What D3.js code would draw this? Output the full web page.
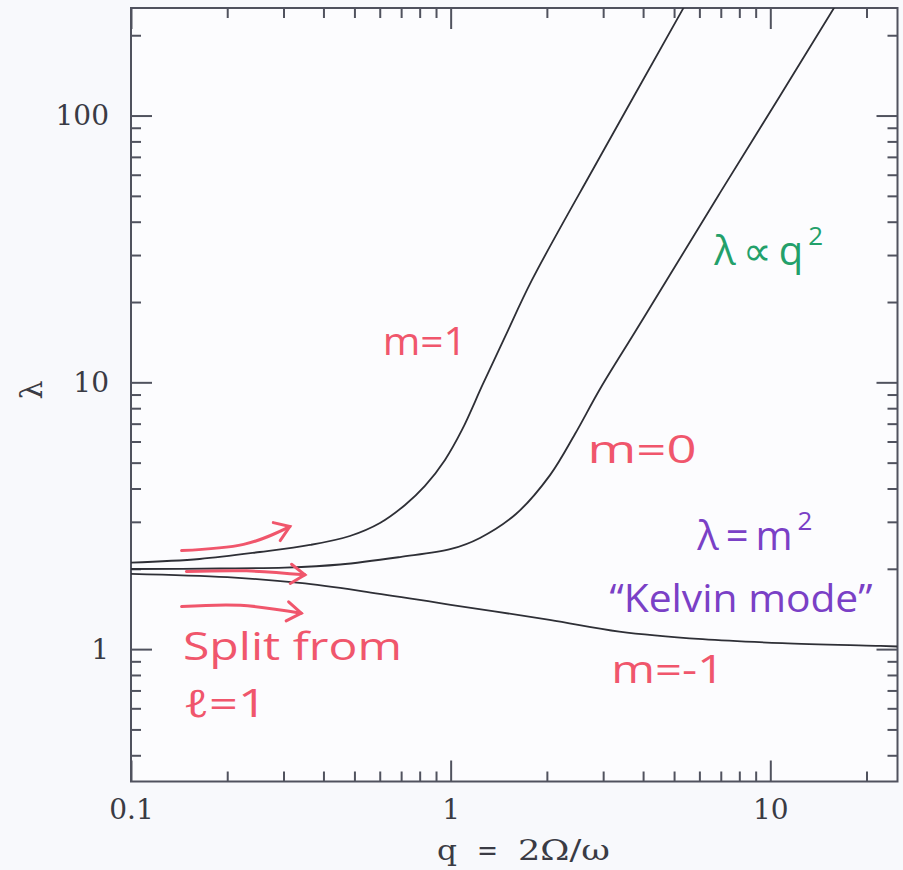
<!DOCTYPE html>
<html>
<head>
<meta charset="utf-8">
<script src="https://cdn.jsdelivr.net/npm/d3@7"></script>
<style>
body { margin: 0; background: #f8f9fc; }
svg { display: block; }
</style>
</head>
<body>
<svg width="903" height="870"></svg>
<script>
// valeurs (q = 2 Omega / omega, lambda)
var qTicks = [0.1, 1, 10];
var qTickLabels = ["0.1", "1", "10"];
var lamTicks = [1, 10, 100];
var lamTickLabels = ["1", "10", "100"];

var m1Q = [0.1, 0.164, 0.253, 0.363, 0.484, 0.601, 0.72, 0.831, 0.96, 1.085, 1.262, 1.479, 1.797, 2.93, 5.33, 6.03];
var m1L = [2.108, 2.177, 2.312, 2.457, 2.655, 2.97, 3.47, 4.09, 5.12, 6.63, 9.86, 14.8, 24.2, 69.9, 251, 328];

var m0Q = [0.1, 0.19, 0.303, 0.451, 0.694, 1.003, 1.235, 1.601, 2.046, 2.449, 2.932, 3.773, 4.855, 6.96, 10.72, 15.82, 19.08];
var m0L = [1.997, 2.005, 2.022, 2.076, 2.214, 2.373, 2.61, 3.21, 4.49, 6.40, 9.44, 15.44, 25.3, 51.3, 118.4, 253, 364];

var mm1Q = [0.1, 0.2, 0.337, 0.545, 1.0, 2.04, 3.37, 6.14, 10.9, 21.4, 25];
var mm1L = [1.915, 1.86, 1.77, 1.64, 1.466, 1.288, 1.164, 1.09, 1.053, 1.029, 1.023];

// annotations manuscrites (position en coordonnees du graphe)
var notes = [
    { text: "m=1", q: 0.613, lam: 12.7, color: "#f0566c", w: 84 },
    { text: "m=0", q: 2.68, lam: 4.99, color: "#f0566c", w: 109 },
    { text: "“Kelvin mode”", q: 3.14, lam: 1.38, color: "#7a40c6", w: 263 },
    { text: "m=-1", q: 3.18, lam: 0.748, color: "#f0566c", w: 113 },
    { text: "Split from", q: 0.1454, lam: 0.912, color: "#f0566c", w: 219 },
    { text: "ℓ=1", q: 0.1454, lam: 0.559, color: "#f0566c", w: 84 }
];
// annotations avec exposant
var powNotes = [
    { base: "λ∝q", exp: "2", q: 6.68, lam: 27.6, color: "#23a06a" },
    { base: "λ=m", exp: "2", q: 5.91, lam: 2.36, color: "#7a40c6" }
];
var arrows = [
    [[0.144, 2.34], [0.225, 2.47], [0.314, 2.88]],
    [[0.149, 1.954], [0.23, 1.965], [0.35, 1.899]],
    [[0.144, 1.444], [0.22, 1.46], [0.341, 1.364]]
];

var svg = d3.select("svg");

var x = d3.scaleLog().domain([0.1, 25]).range([131, 897.5]);
var y = d3.scaleLog().domain([0.319, 253]).range([781.5, 8]);

var x0 = x.range()[0], x1 = x.range()[1];
var y0 = y.range()[0], y1 = y.range()[1];

function isMajor(v) {
    var l = Math.log10(v);
    return Math.abs(l - Math.round(l)) < 1e-6;
}
var xMinor = x.ticks().filter(function(v) { return !isMajor(v); });
var yMinor = y.ticks().filter(function(v) { return !isMajor(v); });

svg.append("rect")
    .attr("x", x0).attr("y", y1)
    .attr("width", x1 - x0).attr("height", y0 - y1)
    .attr("fill", "#fcfcfe");

svg.append("clipPath").attr("id", "plot")
    .append("rect")
    .attr("x", x0).attr("y", y1)
    .attr("width", x1 - x0).attr("height", y0 - y1);

// axes : graduations vers l'interieur sur les quatre cotes
function drawAxis(axisFn, scale, values, size, transform, labels) {
    var a = axisFn(scale).tickValues(values).tickSize(-size)
        .tickFormat(function(d, i) { return labels ? labels[i] : ""; });
    var g = svg.append("g").attr("transform", transform).call(a);
    g.select(".domain").remove();
    g.selectAll("line").attr("stroke", "#50525e").attr("stroke-width", 2);
    g.selectAll("text")
        .attr("font-family", "DejaVu Serif")
        .attr("font-size", 28)
        .attr("fill", "#3a3b44");
    return g;
}

var gb = drawAxis(d3.axisBottom, x, qTicks, 21, "translate(0," + y0 + ")", qTickLabels);
gb.selectAll("text").attr("y", 18);
drawAxis(d3.axisBottom, x, xMinor, 10, "translate(0," + y0 + ")");
drawAxis(d3.axisTop, x, qTicks, 21, "translate(0," + y1 + ")");
drawAxis(d3.axisTop, x, xMinor, 10, "translate(0," + y1 + ")");

var gl = drawAxis(d3.axisLeft, y, lamTicks, 21, "translate(" + x0 + ",0)", lamTickLabels);
gl.selectAll("text").attr("x", -22);
drawAxis(d3.axisLeft, y, yMinor, 10, "translate(" + x0 + ",0)");
drawAxis(d3.axisRight, y, lamTicks, 21, "translate(" + x1 + ",0)");
drawAxis(d3.axisRight, y, yMinor, 10, "translate(" + x1 + ",0)");

svg.append("rect")
    .attr("x", x0).attr("y", y1)
    .attr("width", x1 - x0).attr("height", y0 - y1)
    .attr("fill", "none")
    .attr("stroke", "#50525e")
    .attr("stroke-width", 2);

// courbes
var line = d3.line()
    .x(function(d) { return x(d[0]); })
    .y(function(d) { return y(d[1]); })
    .curve(d3.curveCatmullRom.alpha(0.5));

var curves = [d3.zip(m1Q, m1L), d3.zip(m0Q, m0L), d3.zip(mm1Q, mm1L)];

svg.append("g").attr("clip-path", "url(#plot)")
    .selectAll("path")
    .data(curves)
    .enter().append("path")
    .attr("d", line)
    .attr("fill", "none")
    .attr("stroke", "#2e2f36")
    .attr("stroke-width", 1.8);

// titres des axes
var xTitle = [
    { t: "q", x: 437, w: 20 },
    { t: "=", x: 477, w: 21 },
    { t: "2Ω/ω", x: 518, w: 92 }
];
svg.append("g").selectAll("text")
    .data(xTitle)
    .enter().append("text")
    .attr("x", function(d) { return d.x; })
    .attr("y", 860)
    .attr("font-family", "DejaVu Serif")
    .attr("font-size", 28)
    .attr("fill", "#3a3b44")
    .attr("textLength", function(d) { return d.w; })
    .attr("lengthAdjust", "spacingAndGlyphs")
    .text(function(d) { return d.t; });

svg.append("text")
    .attr("transform", "translate(42,390) rotate(-90)")
    .attr("text-anchor", "middle")
    .attr("font-family", "DejaVu Serif")
    .attr("font-size", 30)
    .attr("fill", "#3a3b44")
    .text("λ");

// annotations
svg.append("g").selectAll("text")
    .data(notes)
    .enter().append("text")
    .attr("x", function(d) { return x(d.q); })
    .attr("y", function(d) { return y(d.lam); })
    .attr("font-family", "Open Sans")
    .attr("font-size", 38)
    .attr("fill", function(d) { return d.color; })
    .attr("textLength", function(d) { return d.w; })
    .attr("lengthAdjust", "spacingAndGlyphs")
    .text(function(d) { return d.text; });

var pt = svg.append("g").selectAll("text")
    .data(powNotes)
    .enter().append("text")
    .attr("x", function(d) { return x(d.q); })
    .attr("y", function(d) { return y(d.lam); })
    .attr("font-family", "Open Sans")
    .attr("font-size", 40)
    .attr("letter-spacing", 7)
    .attr("fill", function(d) { return d.color; });
pt.append("tspan").text(function(d) { return d.base; });
pt.append("tspan")
    .attr("dx", -2)
    .attr("dy", -20)
    .attr("font-size", 26)
    .text(function(d) { return d.exp; });

var arrowLine = d3.line()
    .x(function(d) { return x(d[0]); })
    .y(function(d) { return y(d[1]); })
    .curve(d3.curveNatural);

var ga = svg.append("g")
    .attr("fill", "none")
    .attr("stroke", "#f0566c")
    .attr("stroke-width", 3)
    .attr("stroke-linecap", "round");

arrows.forEach(function(a) {
    ga.append("path").attr("d", arrowLine(a));
    var p1 = a[1], p2 = a[2];
    var ex = x(p2[0]), ey = y(p2[1]);
    var ang = Math.atan2(ey - y(p1[1]), ex - x(p1[0]));
    var len = 17;
    var h1 = [ex - len * Math.cos(ang - 0.6), ey - len * Math.sin(ang - 0.6)];
    var h2 = [ex - len * Math.cos(ang + 0.6), ey - len * Math.sin(ang + 0.6)];
    ga.append("path").attr("d", "M" + h1 + "L" + ex + "," + ey + "L" + h2);
});
</script>
</body>
</html>
